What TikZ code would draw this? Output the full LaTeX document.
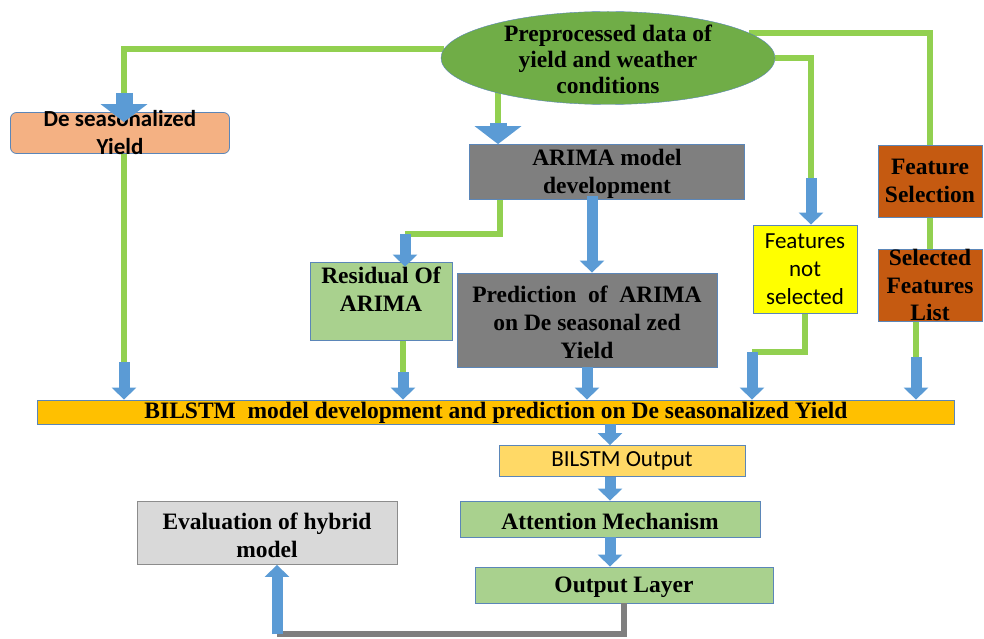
\documentclass[tikz,border=0pt]{standalone}
\usepackage{fontspec}
\setmainfont{Liberation Serif}
\newfontfamily\calfont{Carlito}
\usetikzlibrary{shapes.geometric,arrows.meta,backgrounds}
\definecolor{egreen}{HTML}{70AD47}
\definecolor{boxline}{HTML}{5B86B8}
\definecolor{lorange}{HTML}{F4B183}
\definecolor{mgray}{HTML}{7F7F7F}
\definecolor{lgreenbox}{HTML}{A9D18E}
\definecolor{yel}{HTML}{FFFF00}
\definecolor{dorange}{HTML}{C55A11}
\definecolor{amber}{HTML}{FFC000}
\definecolor{lyellow}{HTML}{FFD966}
\definecolor{lgray}{HTML}{D9D9D9}
\definecolor{graybd}{HTML}{8C8C8C}
\definecolor{lgreen}{HTML}{92D050}
\definecolor{lblue}{HTML}{5B9BD5}

\begin{document}
\begin{tikzpicture}
[x=1pt,y=-1pt,
 bx/.style={draw=boxline,line width=0.8pt,inner sep=0pt,align=center,font=\fontsize{23.5}{28}\selectfont\bfseries},
 tx/.style={inner sep=0pt,align=center,font=\fontsize{23.5}{27.5}\selectfont\bfseries},
 gl/.style={draw=lgreen,line width=6pt},
 gy/.style={draw=mgray,line width=6pt},
 ba/.style={draw=lblue,line width=11pt,-{Triangle[width=24pt,length=12pt]}},
 bb/.style={draw=lblue,line width=17pt,-{Triangle[width=46pt,length=18pt]}}]
\useasboundingbox (0,0) rectangle (984,639);

\node [ellipse,draw=boxline,fill=egreen,minimum width=334pt,minimum height=93pt] at (608,58) (A) {};
\node [tx,font=\fontsize{23.5}{26}\selectfont\bfseries] at (608,59) (A1) {Preprocessed data of\\yield and weather\\conditions};
\node [bx,rounded corners=6pt,fill=lorange,minimum width=219pt,minimum height=41pt] at (120,133) (B) {};
\node [tx,font=\calfont\fontsize{23}{28}\selectfont\bfseries] at (120,133) (B1) {De seasonalized\\Yield};
\node [bx,fill=mgray,minimum width=275pt,minimum height=55pt] at (607,172) (C) {};
\node [tx,font=\fontsize{23.5}{28}\selectfont\bfseries] at (607,174) (C1) {ARIMA model\\development};
\node [bx,fill=lgreenbox,minimum width=142pt,minimum height=78pt] at (381,301) (D) {};
\node [tx] at (381,289) (D1) {Residual Of\\ARIMA};
\node [bx,fill=mgray,minimum width=260pt,minimum height=94pt] at (587,320) (E) {};
\node [tx,font=\fontsize{23.5}{28}\selectfont\bfseries] at (587,322) (E1) {Prediction~ of~ ARIMA\\on De seasonal zed\\Yield};
\node [bx,fill=yel,font=\calfont\fontsize{23}{28}\selectfont,minimum width=104pt,minimum height=88pt] at (805,269) (F) {Features\\not\\selected};
\node [bx,fill=dorange,minimum width=104pt,minimum height=72pt] at (930,181) (G) {Feature\\Selection};
\node [bx,fill=dorange,minimum width=104pt,minimum height=72pt] at (930,285) (H) {};
\node [tx] at (930,285) (H1) {Selected\\Features\\List};
\node [bx,fill=amber,minimum width=917pt,minimum height=24pt] at (496,412) (I) {};
\node [tx] at (496,413) (I1) {BILSTM~ model development and prediction on De seasonalized Yield};
\node [bx,fill=lyellow,font=\calfont\fontsize{23}{26}\selectfont,minimum width=246pt,minimum height=31pt] at (622,461) (J) {BILSTM Output};
\node [bx,fill=lgreenbox,minimum width=300pt,minimum height=36pt] at (610,519) (K) {};
\node [tx] at (610,521) (K1) {Attention Mechanism};
\node [bx,fill=lgreenbox,minimum width=298pt,minimum height=36pt] at (624,585) (L) {};
\node [tx] at (624,587) (L1) {Output Layer};
\node [bx,draw=graybd,fill=lgray,minimum width=260pt,minimum height=63pt] at (267,533) (M) {};
\node [tx,font=\fontsize{23.5}{28}\selectfont\bfseries] at (267,535) (M1) {Evaluation of hybrid\\model};

\coordinate (p1) at (124,93);
\coordinate (p2) at (124,362);
\coordinate (p3) at (498,123);
\coordinate (p4) at (811,178);
\coordinate (p5) at (405,234);
\coordinate (p6) at (403,372);
\coordinate (p7) at (752,352);
\coordinate (p8) at (916,357);
\coordinate (p9) at (277,634);
\coordinate (p10) at (592,196);

% green links behind the boxes
\begin{scope}[on background layer]
\draw [gl] (A.177) -| (p1);
\draw [gl] (B.south -| p2) -- (p2);
\draw [gl] (A.center -| p3) -- (p3);
\draw [gl] (A.east) -| (p4);
\draw [gl] (A.10) -| (G.north);
\draw [gl] (G.south) -- (H.north);
\draw [gl] (H.center -| p8) -- (p8);
\draw [gl] (F.south) |- (p7);
\draw [gl] (C.center) ++(-107,0) |- (p5);
\draw [gl] (D.south -| p6) -- (p6);
\end{scope}

\draw [bb,shorten >=-10pt] (p1) -- (p1 |- B.north);
\draw [bb] (p3) -- (p3 |- C.north);
\draw [ba] (p4) -- (p4 |- F.north);
\draw [ba,shorten >=-5pt] (p5) -- (p5 |- D.north);
\draw [ba] (p10) -- (p10 |- E.north);
\draw [ba] (p2) -- (p2 |- I.north);
\draw [ba] (p6) -- (p6 |- I.north);
\draw [ba] (E.south) -- (E.south |- I.north);
\draw [ba] (p7) -- (p7 |- I.north);
\draw [ba] (p8) -- (p8 |- I.north);

\draw [ba] (I.south -| K.north) -- (J.north -| K.north);
\draw [ba] (J.south -| K.north) -- (K.north);
\draw [ba] (K.south) -- (L.north -| K.south);

\draw [gy] (L.south) |- (p9);
\draw [ba] (p9) -- (p9 |- M.south);
\end{tikzpicture}
\end{document}
